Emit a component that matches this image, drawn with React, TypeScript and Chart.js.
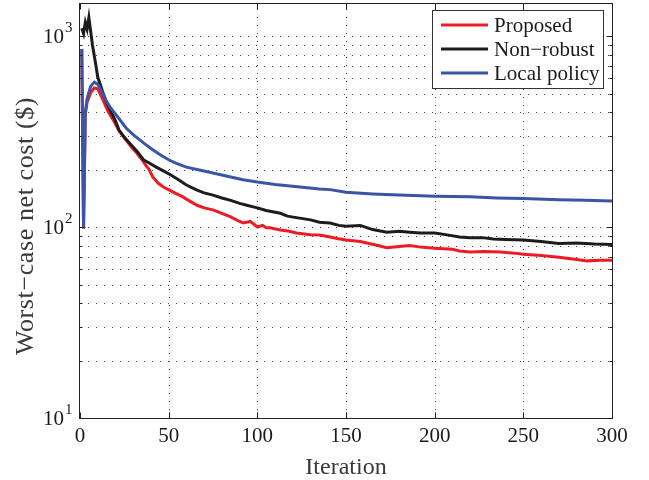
import React, { useEffect, useRef } from "react";
import { Chart, registerables } from "chart.js";

Chart.register(...registerables);

// ---------- data ----------
const proposedIter = [1,2,3,4,6,8,10,13,16,19,22,26,29,32,35,37,39,41,44,47,51,54,58,60,66,70,75,80,85,89,92,96,100,103,105,107,113,118,122,130,135,141,145,150,158,163,168,173,180,186,192,200,210,214,220,228,237,245,250,260,270,278,286,293,300];
const proposedCost = [850,98,390,450,505,535,530,462,400,360,320,285,262,244,225,211,200,183,170,162,155,150,144,140,130,126,123,118,113,108,105,107,100,102,99,99,96.5,95,93,91,90.8,88.6,87,85.5,84,82,80,78,79,80,78.5,77.5,76.5,75,74,74.5,74,73,72,71,69.5,68,66.5,67,67];

const nonRobustIter = [1,2,3,4,5,7,9,10,13,15,17,20,22,25,28,32,36,40,43,47,51,56,60,66,70,75,80,85,90,94,100,105,113,117,122,130,135,141,146,150,158,165,173,180,186,192,200,207,214,220,227,233,240,250,260,270,280,290,300];
const nonRobustCost = [1100,1030,1180,1090,1250,900,700,610,503,450,410,360,322,295,275,250,224,214,206,197,188,176,166,156,151,147,142,138,133,130,126,122,118,114,112,109,106,105,102,101,102,97,94,95,94,93,93,91,88.6,88,88,86.5,86,85.5,84,82,82.5,81.5,81];

const localIter = [1,2,3,4,6,8,10,12,14,17,21,26,30,36,40,45,50,54,60,66,75,85,92,100,110,124,135,141,150,165,180,200,220,235,250,270,285,300];
const localCost = [855,100,400,470,545,574,560,520,470,425,380,330,305,275,258,240,225,216,206,200,192,183,177,172,167,162,158,157,152,149,147,145,144,142,141,139,138,137];

const seriesNames = ["Proposed", "Non\u2212robust", "Local policy"];
const seriesColors = ["#ED1C24", "#1C1C1C", "#3A55A6"];

const xTicks = [0, 50, 100, 150, 200, 250, 300];
const yMajorTicks = [10, 100, 1000];
const yMinorTicks = [20, 30, 40, 50, 60, 70, 80, 90, 200, 300, 400, 500, 600, 700, 800, 900];
const yMajorExp = ["1", "2", "3"];

const xTitle = "Iteration";
const yTitle = "Worst\u2212case net cost ($)";

const FONT = '"Liberation Serif", "Times New Roman", serif';

const matlabPlugin = {
  id: "matlabStyle",
  beforeDatasetsDraw(chart: any) {
    const { ctx, chartArea: a, scales } = chart;
    const xs = scales.x, ys = scales.y;
    ctx.save();
    ctx.strokeStyle = "#444";
    ctx.lineWidth = 1;
    ctx.setLineDash([1, 7]);
    for (const t of xTicks) {
      if (t === xTicks[0] || t === xTicks[xTicks.length - 1]) continue;
      const px = Math.round(xs.getPixelForValue(t)) + 0.5;
      ctx.beginPath();
      ctx.moveTo(px, a.bottom);
      ctx.lineTo(px, a.top);
      ctx.stroke();
    }
    for (const t of [...yMajorTicks, ...yMinorTicks]) {
      if (t <= ys.min || t >= ys.max) continue;
      const py = Math.round(ys.getPixelForValue(t)) + 0.5;
      ctx.beginPath();
      ctx.moveTo(a.left, py);
      ctx.lineTo(a.right, py);
      ctx.stroke();
    }
    ctx.restore();
  },
  afterDatasetsDraw(chart: any) {
    const { ctx, chartArea: a, scales } = chart;
    const xs = scales.x, ys = scales.y;
    ctx.save();
    ctx.setLineDash([]);
    ctx.strokeStyle = "#222";
    ctx.lineWidth = 1;
    // frame
    const L = Math.round(a.left) - 0.5, R = Math.round(a.right) + 0.5;
    const T = Math.round(a.top) + 0.5, B = Math.round(a.bottom) + 0.5;
    ctx.strokeRect(L, T, R - L, B - T);
    // inward tick marks
    ctx.beginPath();
    for (const t of xTicks) {
      const px = Math.round(xs.getPixelForValue(t)) + 0.5;
      ctx.moveTo(px, B); ctx.lineTo(px, B - 6);
      ctx.moveTo(px, T); ctx.lineTo(px, T + 6);
    }
    for (const t of yMajorTicks) {
      const py = Math.round(ys.getPixelForValue(t)) + 0.5;
      ctx.moveTo(L, py); ctx.lineTo(L + 6, py);
      ctx.moveTo(R, py); ctx.lineTo(R - 6, py);
    }
    for (const t of yMinorTicks) {
      const py = Math.round(ys.getPixelForValue(t)) + 0.5;
      ctx.moveTo(L, py); ctx.lineTo(L + 3, py);
      ctx.moveTo(R, py); ctx.lineTo(R - 3, py);
    }
    ctx.stroke();

    // x tick labels
    ctx.fillStyle = "#1a1a1a";
    ctx.font = `21px ${FONT}`;
    ctx.textAlign = "center";
    ctx.textBaseline = "middle";
    for (const t of xTicks) {
      ctx.fillText(String(t), xs.getPixelForValue(t), a.bottom + 18);
    }
    // y tick labels (10^n)
    yMajorTicks.forEach((t, i) => {
      const py = ys.getPixelForValue(t);
      ctx.font = `21px ${FONT}`;
      ctx.textAlign = "right";
      ctx.textBaseline = "middle";
      ctx.fillText("10", a.left - 16, py + 1);
      ctx.font = `15px ${FONT}`;
      ctx.textAlign = "left";
      ctx.fillText(yMajorExp[i], a.left - 15, py - 8);
    });

    // axis titles
    ctx.fillStyle = "#3a3a3a";
    ctx.font = `24px ${FONT}`;
    ctx.textAlign = "center";
    ctx.textBaseline = "alphabetic";
    ctx.fillText(xTitle, (a.left + a.right) / 2, 474);
    ctx.save();
    ctx.translate(33, 226);
    ctx.rotate(-Math.PI / 2);
    ctx.font = `26px ${FONT}`;
    try { (ctx as any).letterSpacing = "0.6px"; } catch (e) {}
    ctx.fillText(yTitle, 0, 0);
    try { (ctx as any).letterSpacing = "0px"; } catch (e) {}
    ctx.restore();

    // legend
    const bx = 432.5, by = 10.5, bw = 171, bh = 78;
    ctx.fillStyle = "#fff";
    ctx.fillRect(bx, by, bw, bh);
    ctx.strokeStyle = "#333";
    ctx.lineWidth = 1;
    ctx.strokeRect(bx, by, bw, bh);
    const rowY = [25, 49, 73];
    ctx.font = `21px ${FONT}`;
    ctx.textAlign = "left";
    ctx.textBaseline = "middle";
    seriesNames.forEach((name, i) => {
      ctx.strokeStyle = seriesColors[i];
      ctx.lineWidth = 3;
      ctx.beginPath();
      ctx.moveTo(441, rowY[i]);
      ctx.lineTo(488, rowY[i]);
      ctx.stroke();
      ctx.fillStyle = "#1a1a1a";
      ctx.fillText(name, 494, rowY[i] + 1);
    });
    ctx.restore();
  },
};

export default function App() {
  const ref = useRef<HTMLCanvasElement | null>(null);
  useEffect(() => {
    if (!ref.current) return;
    const mk = (xsArr: number[], ysArr: number[]) => xsArr.map((x, i) => ({ x, y: ysArr[i] }));
    const chart = new Chart(ref.current, {
      type: "line",
      data: {
        datasets: [
          { label: seriesNames[0], data: mk(proposedIter, proposedCost), borderColor: seriesColors[0], backgroundColor: seriesColors[0], borderWidth: 3, pointRadius: 0, tension: 0, order: 3 },
          { label: seriesNames[1], data: mk(nonRobustIter, nonRobustCost), borderColor: seriesColors[1], backgroundColor: seriesColors[1], borderWidth: 3, pointRadius: 0, tension: 0, order: 2 },
          { label: seriesNames[2], data: mk(localIter, localCost), borderColor: seriesColors[2], backgroundColor: seriesColors[2], borderWidth: 3, pointRadius: 0, tension: 0, order: 1 },
        ],
      },
      options: {
        responsive: false,
        animation: false,
        events: [],
        layout: { padding: { top: 3, right: 37, left: 0, bottom: 0 } },
        plugins: { legend: { display: false }, tooltip: { enabled: false } },
        scales: {
          x: {
            type: "linear", min: 0, max: 300,
            ticks: { display: false }, grid: { display: false }, border: { display: false },
            afterFit: (s: any) => { s.height = 62; },
          },
          y: {
            type: "logarithmic", min: 10, max: 1490,
            ticks: { display: false }, grid: { display: false }, border: { display: false },
            afterFit: (s: any) => { s.width = 80; },
          },
        },
      } as any,
      plugins: [matlabPlugin],
    });
    return () => chart.destroy();
  }, []);
  return (
    <div style={{ position: "fixed", left: 0, top: 0, width: 649, height: 480, background: "#fff" }}>
      <canvas ref={ref} width={649} height={480} style={{ width: 649, height: 480, display: "block" }} />
    </div>
  );
}
